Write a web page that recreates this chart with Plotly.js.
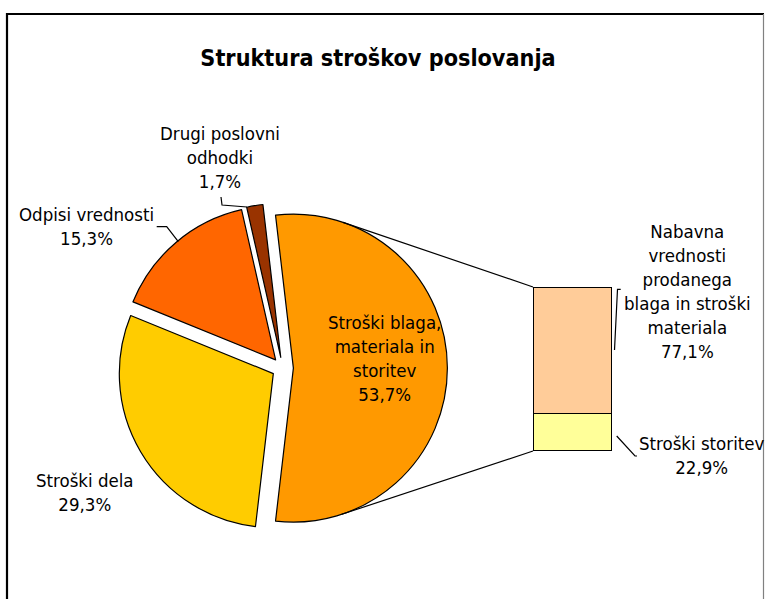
<!DOCTYPE html>
<html><head><meta charset="utf-8">
<script src="https://cdn.plot.ly/plotly-3.0.1.min.js"></script>
<style>html,body{margin:0;padding:0;background:#fff}#chart{width:765px;height:599px}</style>
</head><body><div id="chart"></div>
<script>
// ---- data ----
const chartTitle = 'Struktura stroškov poslovanja';
const pieLabels = ['Stroški blaga,<br>materiala in<br>storitev', 'Stroški dela', 'Odpisi vrednosti', 'Drugi poslovni<br>odhodki'];
const pieValues = [53.7, 29.3, 15.3, 1.7];
const pieColors = ['#FF9900', '#FFCC00', '#FF6600', '#993300'];
const barLabels = ['Stroški storitev', 'Nabavna<br>vrednosti<br>prodanega<br>blaga in stroški<br>materiala'];
const barValues = [22.9, 77.1];
const barColors = ['#FFFF99', '#FFCC99'];

// ---- layout geometry (pixels) ----
const W = 765, H = 599;
const FONT = "'DejaVu Sans Condensed', 'DejaVu Sans', sans-serif";
const fx = x => x / W, fy = y => 1 - y / H;
const pull = 0.07, R = 154, CX = 282.6, CY = 368.1;
const box = 2 * R * (1 + pull);
const bar = {x0: 533, x1: 612, top: 287, bottom: 451};
const fmt = v => v.toFixed(1).replace('.', ',') + '%';
const total = pieValues.reduce((a, b) => a + b, 0);
const rotation = 90 - 180 * pieValues[0] / total;

const pieTrace = {
  type: 'pie', sort: false, direction: 'clockwise', rotation: rotation,
  labels: pieLabels.map(l => l.replace(/<br>/g, ' ')), values: pieValues,
  marker: {colors: pieColors, line: {color: '#000', width: 1.2}},
  pull: pieValues.map(() => pull), textinfo: 'none', showlegend: false,
  domain: {x: [fx(CX - box / 2), fx(CX + box / 2)], y: [fy(CY + box / 2), fy(CY - box / 2)]},
  hoverinfo: 'label+percent'
};
const barTraces = barValues.map((v, i) => ({
  type: 'bar', x: [0], y: [v], width: [1], name: barLabels[i].replace(/<br>/g, ' '),
  marker: {color: barColors[i], line: {color: '#000', width: 1.2}},
  showlegend: false, xaxis: 'x', yaxis: 'y', hoverinfo: 'name+y'
}));

// connector lines: tangents from bar corners to the pulled main slice
const VX = CX + pull * R, VY = CY;
function tangent(px, py, upper) {
  const dx = px - VX, dy = py - VY, D = Math.hypot(dx, dy);
  const a = Math.acos(R / D), ux = dx / D, uy = dy / D;
  const c = [a, -a].map(t => [VX + R * (ux * Math.cos(t) - uy * Math.sin(t)), VY + R * (ux * Math.sin(t) + uy * Math.cos(t))]);
  c.sort((p, q) => p[1] - q[1]);
  return upper ? c[0] : c[1];
}
const tTop = tangent(bar.x0, bar.top, true), tBot = tangent(bar.x0, bar.bottom, false);
const lineShape = (x0, y0, x1, y1, color, width) => ({type: 'line', xref: 'paper', yref: 'paper',
  x0: fx(x0), y0: fy(y0), x1: fx(x1), y1: fy(y1), line: {color: color || '#000', width: width || 1.2}});
const pathShape = pts => ({type: 'path', xref: 'paper', yref: 'paper',
  path: pts.map((p, i) => (i ? 'L' : 'M') + fx(p[0]) + ',' + fy(p[1])).join(' '), line: {color: '#000', width: 1.2}});

const shapes = [
  lineShape(tTop[0], tTop[1], bar.x0, bar.top),
  lineShape(tBot[0], tBot[1], bar.x0, bar.bottom),
  // leader lines
  pathShape([[221, 197], [222, 205], [247, 207]]),
  pathShape([[156.7, 226.7], [166.7, 226.7], [178.3, 241.7]]),
  pathShape([[620.7, 289.3], [617.5, 289.3], [614.5, 350]]),
  pathShape([[616.7, 436], [635, 456], [637, 456]]),
  // frame
  lineShape(7, 13, 7, 600, '#000', 2.2),
  lineShape(6, 14, 764, 14, '#000', 2.2),
  lineShape(763.5, 14, 763.5, 600, '#808080', 1.2)
];

const labelPos = [[384.5, 358], [85, 492], [86, 226], [220.5, 157]];
const barLabelPos = [[702, 455], [687, 291]];
const ann = (txt, p) => ({text: txt, x: fx(p[0]), y: fy(p[1]), xref: 'paper', yref: 'paper',
  xanchor: 'center', yanchor: 'middle', showarrow: false, align: 'center',
  font: {family: FONT, size: 18.5, color: '#000'}});
const annotations = pieLabels.map((l, i) => ann(l + '<br>' + fmt(pieValues[i]), labelPos[i]))
  .concat(barLabels.map((l, i) => ann(l + '<br>' + fmt(barValues[i]), barLabelPos[i])));

const layout = {
  width: W, height: H, margin: {l: 0, r: 0, t: 0, b: 0},
  paper_bgcolor: '#fff', plot_bgcolor: 'rgba(0,0,0,0)',
  title: {text: '<b>' + chartTitle + '</b>', x: fx(378), xanchor: 'center', y: fy(58), yanchor: 'middle',
    font: {family: FONT, size: 23.2, color: '#000'}},
  barmode: 'stack', bargap: 0,
  xaxis: {domain: [fx(bar.x0), fx(bar.x1)], range: [-0.5, 0.5], visible: false, fixedrange: true},
  yaxis: {domain: [fy(bar.bottom), fy(bar.top)], range: [0, 100], visible: false, fixedrange: true},
  shapes: shapes, annotations: annotations, showlegend: false
};
Plotly.newPlot('chart', [pieTrace].concat(barTraces), layout, {displayModeBar: false, staticPlot: true});
</script></body></html>
